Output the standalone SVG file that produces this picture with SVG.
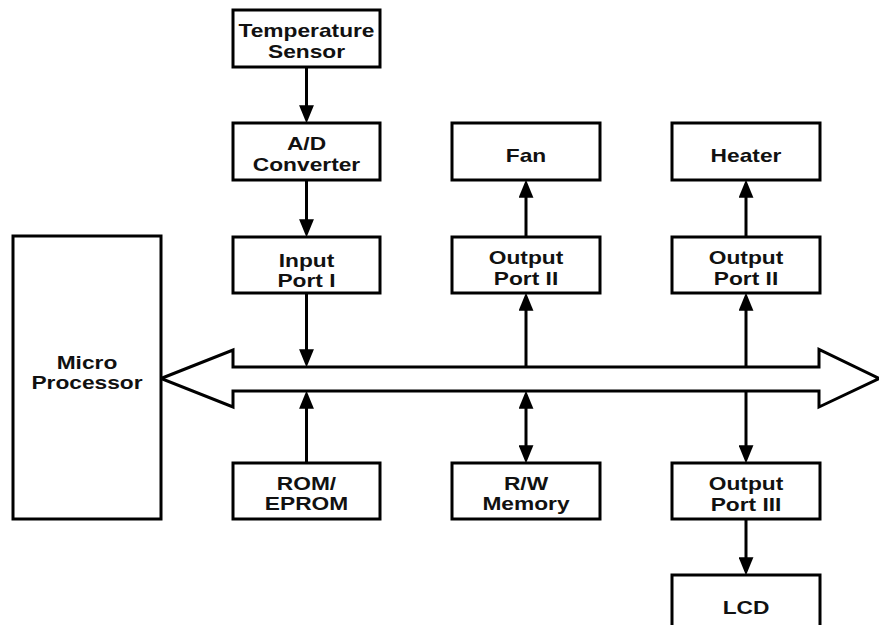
<svg xmlns="http://www.w3.org/2000/svg" width="879" height="625" viewBox="0 0 879 625">
<style>
.box{fill:#fff;stroke:#000;stroke-width:3}
.t{font-family:"Liberation Sans",Arial,sans-serif;font-weight:bold;font-size:17.5px;text-anchor:middle;fill:#111}
.c{stroke:#000;stroke-width:3;fill:none}
.a{marker-end:url(#ah)}
.d{marker-end:url(#ah);marker-start:url(#ah)}
</style>
<defs>
<marker id="ah" markerUnits="userSpaceOnUse" markerWidth="18" markerHeight="15" viewBox="0 0 17 14" refX="11" refY="7" orient="auto-start-reverse">
<path d="M0,0 L17,7 L0,14 Z" fill="#000"/>
</marker>
</defs>
<rect width="879" height="625" fill="#fff"/>
<g id="bus">
<polygon points="161,378.5 233,350 233,367 819,367 819,349.5 879,378.5 819,407 819,391 233,391 233,407" fill="#fff" stroke="#000" stroke-width="3" stroke-linejoin="miter"/>
</g>
<g id="connectors">
<line class="c a" x1="306.5" y1="67" x2="306.5" y2="117"/>
<line class="c a" x1="306.5" y1="180" x2="306.5" y2="231"/>
<line class="c a" x1="306.5" y1="293" x2="306.5" y2="361"/>
<line class="c a" x1="306.5" y1="463" x2="306.5" y2="397"/>
<line class="c a" x1="526" y1="367" x2="526" y2="299"/>
<line class="c a" x1="526" y1="237" x2="526" y2="186"/>
<line class="c a" x1="746" y1="367" x2="746" y2="299"/>
<line class="c a" x1="746" y1="237" x2="746" y2="186"/>
<line class="c d" x1="526" y1="397" x2="526" y2="457"/>
<line class="c a" x1="746" y1="391" x2="746" y2="457"/>
<line class="c a" x1="746" y1="519" x2="746" y2="569"/>
</g>
<g id="micro">
<rect class="box" x="13" y="236" width="148" height="283"/>
<text class="t" transform="translate(87,368.5) scale(1.3,1)"><tspan x="0">Micro</tspan><tspan x="0" dy="21">Processor</tspan></text>
</g>
<g id="temp">
<rect class="box" x="233" y="10" width="147" height="57"/>
<text class="t" transform="translate(306.5,37) scale(1.3,1)"><tspan x="0">Temperature</tspan><tspan x="0" dy="21">Sensor</tspan></text>
</g>
<g id="adc">
<rect class="box" x="233" y="123" width="147" height="57"/>
<text class="t" transform="translate(306.5,149.5) scale(1.3,1)"><tspan x="0">A/D</tspan><tspan x="0" dy="21.5">Converter</tspan></text>
</g>
<g id="input">
<rect class="box" x="233" y="237" width="147" height="56"/>
<text class="t" transform="translate(306.5,266.5) scale(1.3,1)"><tspan x="0">Input</tspan><tspan x="0" dy="21">Port I</tspan></text>
</g>
<g id="rom">
<rect class="box" x="233" y="463" width="147" height="56"/>
<text class="t" transform="translate(306.5,489.5) scale(1.3,1)"><tspan x="0">ROM/</tspan><tspan x="0" dy="21">EPROM</tspan></text>
</g>
<g id="fan">
<rect class="box" x="452" y="123" width="148" height="57"/>
<text class="t" transform="translate(526,161.5) scale(1.3,1)">Fan</text>
</g>
<g id="out2a">
<rect class="box" x="452" y="237" width="148" height="56"/>
<text class="t" transform="translate(526,263.5) scale(1.3,1)"><tspan x="0">Output</tspan><tspan x="0" dy="21.5">Port II</tspan></text>
</g>
<g id="rwmem">
<rect class="box" x="452" y="463" width="148" height="56"/>
<text class="t" transform="translate(526,489.5) scale(1.3,1)"><tspan x="0">R/W</tspan><tspan x="0" dy="21">Memory</tspan></text>
</g>
<g id="heater">
<rect class="box" x="672" y="123" width="148" height="57"/>
<text class="t" transform="translate(746,161.5) scale(1.3,1)">Heater</text>
</g>
<g id="out2b">
<rect class="box" x="672" y="237" width="148" height="56"/>
<text class="t" transform="translate(746,263.5) scale(1.3,1)"><tspan x="0">Output</tspan><tspan x="0" dy="21.5">Port II</tspan></text>
</g>
<g id="out3">
<rect class="box" x="672" y="463" width="148" height="56"/>
<text class="t" transform="translate(746,490) scale(1.3,1)"><tspan x="0">Output</tspan><tspan x="0" dy="21">Port III</tspan></text>
</g>
<g id="lcd">
<rect class="box" x="672" y="575" width="148" height="70"/>
<text class="t" transform="translate(746,614) scale(1.3,1)">LCD</text>
</g>
</svg>
